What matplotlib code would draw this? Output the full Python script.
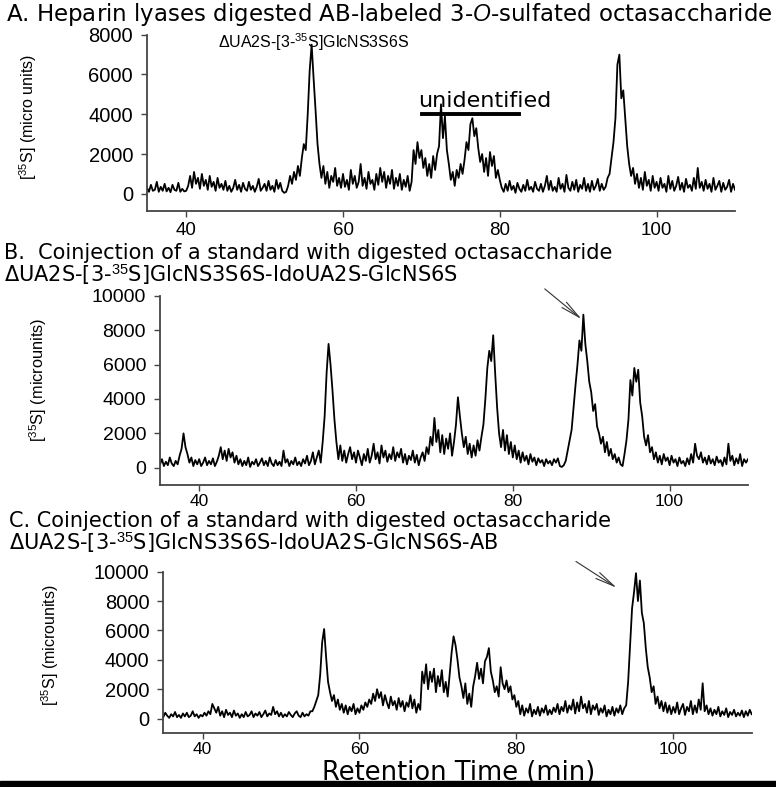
import numpy as np
import matplotlib
matplotlib.use("Agg")
import matplotlib.pyplot as plt

plt.rcParams['font.family'] = ['Liberation Sans', 'DejaVu Sans']
plt.rcParams['mathtext.fontset'] = 'custom'
plt.rcParams['mathtext.rm'] = 'Liberation Sans'
plt.rcParams['mathtext.it'] = 'Liberation Sans:italic'

# ---------------- data (retention time in min, [35S] in micro units) -------------
retention_time = np.round(np.arange(35.0, 110.001, 0.25), 2)

panel_a = [
    300, 100, 450, 150, 200, 600, 100, 350, 150, 500, 120, 300, 80, 450, 200, 150, 550, 100, 250, 120,
    150, 400, 900, 300, 1100, 500, 800, 250, 1000, 400, 700, 200, 900, 350, 600, 150, 800, 300, 500, 200,
    650, 150, 400, 100, 300, 700, 200, 450, 100, 550, 250, 150, 600, 200, 400, 100, 350, 750, 150, 300,
    500, 150, 650, 200, 400, 100, 700, 250, 550, 150, 50, 100, 400, 900, 500, 1100, 700, 1400, 900, 1800,
    2500, 2200, 4000, 6200, 7500, 5800, 4200, 2500, 1500, 800, 1400, 500, 1100, 300, 900, 600, 1300, 400, 800, 300,
    1000, 350, 700, 200, 1200, 500, 900, 300, 600, 1500, 400, 800, 250, 1100, 500, 700, 200, 1000, 450, 1300,
    600, 1100, 300, 900, 500, 1200, 250, 800, 400, 1000, 200, 700, 350, 900, 150, 600, 2200, 1500, 2600, 1800,
    2200, 1300, 1800, 900, 1500, 800, 1900, 1200, 2000, 2400, 4500, 2800, 3900, 2200, 1500, 700, 1100, 400, 1200, 800,
    1500, 1000, 1700, 2600, 2200, 3500, 3800, 2900, 3300, 2300, 1600, 2000, 1100, 1800, 900, 2100, 1400, 1900, 800, 1200,
    700, 300, 100, 500, 150, 650, 200, 400, 50, 550, 250, 100, 450, 150, 700, 200, 350, 100, 600, 250,
    150, 500, 100, 400, 900, 200, 650, 150, 350, 100, 800, 250, 500, 100, 950, 300, 150, 600, 200, 700,
    100, 450, 250, 800, 150, 500, 100, 650, 200, 400, 750, 150, 500, 200, 350, 800, 1000, 1800, 2600, 3800,
    6500, 7000, 4800, 5200, 3800, 2400, 1500, 900, 1300, 500, 1000, 300, 800, 200, 1100, 400, 700, 150, 900, 300,
    600, 150, 800, 300, 500, 100, 900, 250, 650, 150, 400, 850, 200, 550, 100, 750, 300, 450, 150, 800,
    250, 1300, 300, 600, 150, 700, 250, 500, 100, 800, 200, 400, 650, 100, 550, 200, 350, 700, 100, 500,
    200,
]

panel_b = [
    200, 500, 100, 350, 150, 600, 250, 100, 400, 200, 700, 1100, 2000, 1200, 800, 300, 600, 100, 450, 200,
    500, 100, 300, 600, 150, 400, 200, 550, 100, 350, 700, 1200, 500, 1000, 400, 1100, 600, 900, 300, 700,
    200, 500, 100, 400, 150, 600, 50, 350, 200, 500, 100, 300, 550, 150, 400, 100, 600, 250, 100, 450,
    150, 350, 100, 1000, 300, 500, 100, 400, 200, 600, 150, 350, 100, 500, 250, 700, 150, 400, 900, 200,
    600, 1000, 300, 1500, 3000, 5500, 7200, 6000, 4500, 2800, 1500, 500, 1300, 400, 1000, 300, 800, 1200, 500, 900,
    300, 1000, 600, 150, 800, 400, 1100, 300, 700, 1400, 500, 900, 250, 1300, 600, 1000, 350, 800, 500, 1200,
    400, 900, 600, 1100, 300, 800, 200, 700, 450, 1000, 300, 750, 150, 600, 900, 400, 1200, 800, 1800, 1300,
    2900, 1500, 2200, 900, 1900, 800, 1700, 1100, 2000, 700, 1500, 2500, 4100, 3000, 2000, 1200, 1800, 800, 1400, 600,
    1300, 700, 1600, 1000, 1800, 2500, 4000, 5800, 6800, 6200, 7700, 5500, 3500, 2000, 1200, 2200, 1000, 1900, 800, 1500,
    600, 1300, 500, 1000, 300, 900, 400, 700, 200, 800, 350, 600, 150, 550, 300, 450, 100, 500, 250, 400,
    150, 500, 300, 550, 100, 50, 150, 400, 1000, 1600, 2200, 3500, 4800, 6000, 7400, 6800, 8900, 7200, 6200, 5000,
    4400, 3300, 3700, 2400, 2000, 1400, 1800, 900, 1500, 700, 1100, 500, 800, 300, 600, 200, 100, 800, 1600, 2800,
    5100, 4200, 5800, 5000, 5700, 3800, 3000, 1800, 1300, 1900, 900, 1200, 500, 900, 300, 700, 200, 800, 400, 600,
    150, 700, 300, 500, 100, 600, 250, 400, 100, 550, 200, 800, 300, 1400, 700, 500, 900, 300, 600, 200,
    700, 250, 500, 150, 650, 300, 450, 100, 600, 200, 1400, 400, 700, 150, 550, 250, 800, 100, 500, 300,
    500,
]

panel_c = [
    100, 400, 200, 50, 300, 150, 450, 100, 250, 50, 350, 150, 400, 100, 200, 500, 150, 300, 50, 250,
    150, 400, 200, 500, 300, 1000, 700, 400, 800, 200, 500, 100, 600, 250, 400, 100, 550, 200, 350, 50,
    300, 100, 450, 150, 250, 500, 100, 350, 200, 450, 100, 300, 550, 150, 350, 250, 800, 300, 500, 150,
    400, 100, 300, 150, 450, 250, 100, 350, 500, 200, 100, 400, 150, 300, 200, 500, 500, 800, 1200, 1600,
    3000, 5200, 6100, 4200, 2500, 1800, 1200, 1600, 800, 1300, 600, 1000, 400, 900, 300, 800, 500, 1000, 300, 700,
    400, 900, 600, 1100, 800, 1300, 1000, 1700, 1200, 2000, 1400, 1800, 900, 1600, 1100, 700, 1500, 900, 1200, 600,
    1400, 800, 1200, 500, 1100, 800, 1600, 700, 1300, 400, 1000, 600, 3200, 2400, 3700, 2000, 3200, 2500, 3400, 1800,
    2900, 2200, 3300, 1800, 2500, 1500, 3000, 4500, 5600, 5000, 4000, 2800, 2200, 1400, 2400, 1000, 1700, 800, 2200, 2900,
    3800, 2700, 3400, 2400, 3900, 4200, 4800, 3200, 2600, 1800, 2200, 1500, 3500, 2400, 2000, 2600, 1800, 2200, 1300, 1600,
    800, 1200, 300, 900, 200, 700, 400, 1000, 150, 600, 300, 800, 200, 700, 400, 900, 250, 600, 300, 750,
    450, 1000, 300, 800, 500, 1200, 400, 900, 600, 1300, 350, 1100, 500, 1500, 700, 1000, 400, 1200, 300, 900,
    600, 1000, 250, 700, 400, 900, 150, 600, 300, 800, 200, 700, 400, 900, 300, 700, 900, 2500, 5000, 7500,
    8600, 9900, 8000, 9400, 7200, 6500, 4800, 3500, 2800, 1800, 2200, 1000, 1500, 700, 1200, 500, 1100, 400, 900, 300,
    800, 400, 1100, 300, 700, 1000, 250, 800, 500, 1200, 300, 900, 400, 1300, 600, 2400, 500, 900, 300, 700,
    200, 600, 300, 800, 150, 500, 250, 700, 100, 450, 250, 600, 150, 400, 200, 550, 100, 500, 200, 600,
    300,
]

x_ticks = [40, 60, 80, 100]
yticks_a = [0, 2000, 4000, 6000, 8000]
yticks_bc = [0, 2000, 4000, 6000, 8000, 10000]

title_a = "A. Heparin lyases digested AB-labeled 3-$\\mathit{O}$-sulfated octasaccharide"
title_b = ("B.  Coinjection of a standard with digested octasaccharide\n"
           "\u0394UA2S-[3-$^{35}$S]GlcNS3S6S-IdoUA2S-GlcNS6S")
title_c = ("C. Coinjection of a standard with digested octasaccharide\n"
           "\u0394UA2S-[3-$^{35}$S]GlcNS3S6S-IdoUA2S-GlcNS6S-AB")
label_peak_a = "\u0394UA2S-[3-$^{35}$S]GlcNS3S6S"
label_unident = "unidentified"
unident_range = (70.1, 82.4)
unident_level = 4000

WIDE = ['DejaVu Sans']

# ---------------- figure ----------------
W, H = 776, 787
fig = plt.figure(figsize=(W / 100, H / 100), dpi=100)


def px_axes(x0, y0, x1, y1):
    return fig.add_axes([x0 / W, 1 - y1 / H, (x1 - x0) / W, (y1 - y0) / H])


def ftext(x, y, s, size, ha='left', va='center', **kw):
    return fig.text(x / W, 1 - y / H, s, fontsize=size, ha=ha, va=va, **kw)


def style(ax, ylim, yticks, ysize=14, xsize=13, xpad=3):
    ax.set_xlim(35, 110)
    ax.set_ylim(*ylim)
    ax.set_xticks(x_ticks)
    ax.set_yticks(yticks)
    for s in ('top', 'right'):
        ax.spines[s].set_visible(False)
    for s in ('left', 'bottom'):
        ax.spines[s].set_color('#444444')
        ax.spines[s].set_linewidth(1.3)
    ax.spines['left'].set_bounds(ylim[0], yticks[-1])
    ax.tick_params(axis='y', direction='out', color='#444444', width=1.0, length=4,
                   labelsize=ysize, pad=6)
    ax.tick_params(axis='x', direction='out', color='#444444', width=1.0, length=4,
                   labelsize=xsize, pad=xpad)
    ax.patch.set_alpha(0)


LW = 1.3

axA = px_axes(147, 34.7, 735, 211.3)
axA.plot(retention_time, panel_a, color='black', lw=LW)
style(axA, (-880, 8000), yticks_a, 14.5, 13.5, 4)
axA.plot(unident_range, [unident_level, unident_level], color='black', lw=2.8)

axB = px_axes(160, 295.7, 748, 485)
axB.plot(retention_time, panel_b, color='black', lw=LW)
style(axB, (-1000, 10000), yticks_bc, 14, 12.5, 2.5)
axB.annotate('', xy=(89.06, 8530), xytext=(83.8, 10500), annotation_clip=False,
             arrowprops=dict(arrowstyle='->,head_length=1.4,head_width=0.25', lw=0.8, color='#333333'))

axC = px_axes(163.3, 571.7, 751.7, 733.3)
axC.plot(retention_time, panel_c, color='black', lw=LW)
style(axC, (-1000, 10000), yticks_bc, 14.5, 12.5, 2.5)
axC.annotate('', xy=(93.1, 8800), xytext=(87.3, 10800), annotation_clip=False,
             arrowprops=dict(arrowstyle='->,head_length=1.4,head_width=0.25', lw=0.8, color='#333333'))

# texts
ftext(6, 15, title_a, 16.5, family=WIDE)
ftext(218, 42, label_peak_a, 11.5)
ftext(418, 101, label_unident, 16, family=WIDE)
ftext(4, 265, title_b, 15, family=WIDE, linespacing=0.92)
ftext(9, 533, title_c, 15, family=WIDE, linespacing=0.92)

ftext(28, 117, "[$^{35}$S] (micro units)", 11.5, ha='center', rotation=90)
ftext(38, 380, "[$^{35}$S] (microunits)", 11.8, ha='center', rotation=90)
ftext(50, 645, "[$^{35}$S] (microunits)", 11.5, ha='center', rotation=90)
ftext(459, 780, "Retention Time (min)", 18.5, ha='center', va='baseline', family=WIDE)

# black strip at the bottom of the scanned figure
fig.patches.append(plt.Rectangle((0, 0), 1, 6 / H, transform=fig.transFigure,
                                 color='black', zorder=10))

fig.savefig("out.png", dpi=100)
